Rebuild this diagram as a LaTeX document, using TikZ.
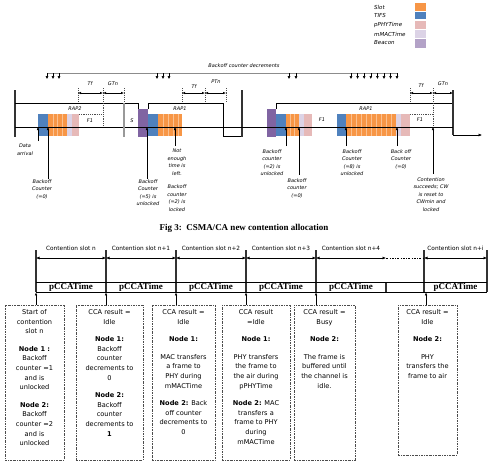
\documentclass[tikz,border=0pt]{standalone}
\usepackage{fontspec}
\setmainfont{Liberation Serif}
\newfontfamily\dvs{DejaVu Sans}[ItalicFont={DejaVu Sans Oblique},BoldFont={DejaVu Sans Bold}]
\usetikzlibrary{arrows.meta}
\definecolor{slotc}{HTML}{F79646}
\definecolor{slotl}{HTML}{FAC090}
\definecolor{tifsc}{HTML}{4F81BD}
\definecolor{phyc}{HTML}{E6B9B8}
\definecolor{macc}{HTML}{DCD3E6}
\definecolor{beac}{HTML}{8064A2}
\definecolor{beal}{HTML}{B3A2C7}
\tikzset{
  ftxt/.style={font=\dvs\itshape\fontsize{5}{7.5}\selectfont, align=center, inner sep=0pt, anchor=north},
  ltxt/.style={font=\dvs\itshape\fontsize{5.5}{7}\selectfont, inner sep=0pt, anchor=west},
  btxt/.style={font=\dvs\fontsize{6.6}{9.6}\selectfont, align=center, inner sep=0pt, anchor=north},
  ctxt/.style={font=\dvs\fontsize{5.8}{7}\selectfont, inner sep=0pt},
  ptxt/.style={font=\bfseries\fontsize{9}{10}\selectfont, inner sep=0pt},
  uar/.style={-{Latex[length=3pt,width=2.6pt]}, line width=0.5pt},
  dar/.style={-{Latex[length=2.8pt,width=2.8pt]}, line width=0.5pt},
  tarr/.style={{Latex[length=3pt,width=2.4pt]}-{Latex[length=3pt,width=2.4pt]}, line width=0.5pt},
  barr/.style={{Latex[length=3.5pt,width=3pt]}-{Latex[length=3.5pt,width=3pt]}, line width=0.6pt},
  dline/.style={dash pattern=on 1.2pt off 1pt, line width=0.4pt, black!70},
  dbox/.style={draw=black!70, line width=0.5pt, dash pattern=on 2pt off 1pt on 0.6pt off 1pt, inner sep=0pt},
  vbar/.style={line width=1.4pt, black!80},
  frame/.style={line width=0.5pt, black},
  sdiv/.style={slotl, line width=0.5pt},
}
\begin{document}
\begin{tikzpicture}[x=1pt,y=-1pt]
\useasboundingbox (0,0) rectangle (488,467);

% ---------- legend ----------
\node[ltxt] (lg1) at (374,7) {Slot};
\node[ltxt] (lg2) at (374,15.5) {TIFS};
\node[ltxt] (lg3) at (374,25) {pPHYTime};
\node[ltxt] (lg4) at (374,34) {mMACTime};
\node[ltxt] (lg5) at (374,43) {Beacon};
\fill[slotc] (415,3) rectangle (426,11);
\fill[tifsc] (415,12) rectangle (426,19);
\fill[phyc] (415,21) rectangle (426,29);
\fill[macc] (415,30) rectangle (426,38);
\fill[beal] (415,39) rectangle (426,48);

% ---------- backoff decrements ----------
\node[ftxt, anchor=center] (bcd) at (244,66) {Backoff counter decrements};
\draw[black!45, line width=0.6pt] (47,73) -- (397,73);
\foreach \x in {47,53,59,157,163,169,289,296,351,357.6,364.2,370.8,377.4,384,390.6,397}
  \draw[dar] (\x,73) -- (\x,79);

% ---------- slots ----------
% block 1
\fill[tifsc] (38,114) rectangle (48,136);
\fill[slotc] (48,114) rectangle (67,136);
\foreach \x in {52.75,57.5,62.25} \draw[sdiv] (\x,114) -- (\x,136);
\fill[macc] (67,114) rectangle (72,136);
\fill[phyc] (72,114) rectangle (79,136);
\draw[dline] (79,114) -- (103,114);
% block 2
\fill[beac] (138,109) rectangle (148,137);
\fill[tifsc] (148,114) rectangle (158,136);
\fill[slotc] (158,114) rectangle (182,136);
\foreach \x in {163,168,173,178} \draw[sdiv] (\x,114) -- (\x,136);
% block 3a
\fill[beac] (267,109) rectangle (276,137);
\fill[tifsc] (276,114) rectangle (286,136);
\fill[slotc] (286,114) rectangle (299,136);
\foreach \x in {290.3,294.6} \draw[sdiv] (\x,114) -- (\x,136);
\fill[macc] (299,114) rectangle (304,136);
\fill[phyc] (304,114) rectangle (312,136);
% block 3b
\fill[tifsc] (337,114) rectangle (346,136);
\fill[slotc] (346,114) rectangle (396,136);
\foreach \x in {351,356,361,366,371,376,381,386,391} \draw[sdiv] (\x,114) -- (\x,136);
\fill[macc] (396,114) rectangle (401,136);
\fill[phyc] (401,114) rectangle (410,136);
\draw[dline] (410,114) -- (433,114);

% ---------- frames ----------
\draw[vbar] (15,90) -- (15,137);
\draw[frame] (15,103) -- (138,103) -- (138,109);
\draw[frame] (148,109) -- (148,103) -- (223,103) -- (223,136) -- (242,136);
\draw[vbar] (242,90) -- (242,137);
\draw[frame] (276,109) -- (276,103) -- (453,103);
\draw[vbar] (453,90) -- (453,135);
\draw[frame, -{Latex[length=3.5pt,width=3pt]}] (453,135) -- (482,135);
\draw[frame] (15,127) -- (453,127);
\draw[line width=1.2pt, black!40] (124,103) -- (124,137);

\node[ftxt, anchor=center] (rap2) at (75,109) {RAP2};
\node[ftxt, anchor=center] (rap1a) at (180,109) {RAP1};
\node[ftxt, anchor=center] (rap1b) at (366,109) {RAP1};
\node[ftxt, anchor=center] (f1a) at (90,121) {F1};
\node[ftxt, anchor=center] (f1b) at (322,120) {F1};
\node[ftxt, anchor=center] (f1c) at (420,120) {F1};
\node[ftxt, anchor=center] (ssep) at (132,121) {S};

% ---------- timing markers ----------
\foreach \x in {78,103,124,182,205,226,410,433} \draw[dline] (\x,88) -- (\x,103);
\draw[dline] (103,103) -- (103,127);
\draw[dline] (433,103) -- (433,127);
\draw[tarr] (78,93) -- (103,93);
\draw[tarr] (103,93) -- (124,93);
\draw[tarr] (182,93) -- (205,93);
\draw[tarr] (205,93) -- (226,93);
\draw[tarr] (410,93) -- (433,93);
\draw[tarr] (433,93) -- (453,93);
\node[ftxt, anchor=center] (t1) at (90,84) {Tf};
\node[ftxt, anchor=center] (g1) at (113,84) {GTn};
\node[ftxt, anchor=center] (t2) at (194,87) {Tf};
\node[ftxt, anchor=center] (p2) at (216,82) {PTn};
\node[ftxt, anchor=center] (t3) at (421,86) {Tf};
\node[ftxt, anchor=center] (g3) at (443,84) {GTn};

% ---------- event labels ----------
\node[ftxt] (e1) at (25,144) {Data\\arrival};
\draw[uar] (38,141) -- (38,127);
\node[ftxt] (e2) at (42,179) {Backoff\\Counter\\(=0)};
\draw[uar] (48,179) -- (48,127);
\node[ftxt] (e3) at (148,179) {Backoff\\Counter\\(=5) is\\unlocked};
\draw[uar] (147,179) -- (147,127);
\node[ftxt] (e4) at (177,149) {Not\\enough\\time is\\left.\\[6pt]Backoff\\counter\\(=2) is\\locked};
\draw[uar] (175,146) -- (175,127);
\node[ftxt] (e5) at (272,149) {Backoff\\counter\\(=2) is\\unlocked};
\draw[uar] (286,146) -- (286,127);
\node[ftxt] (e6) at (297,178) {Backoff\\counter\\(=0)};
\draw[uar] (299,175) -- (299,127);
\node[ftxt] (e7) at (352,149) {Backoff\\Counter\\(=8) is\\unlocked};
\draw[uar] (346,146) -- (346,127);
\node[ftxt] (e8) at (401,149) {Back off\\Counter\\(=0)};
\draw[uar] (397,146) -- (397,127);
\node[ftxt] (e9) at (431,177) {Contention\\succeeds; CW\\is reset to\\CWmin and\\locked};
\draw[uar] (433,174) -- (433,127);

% ---------- caption ----------
\node[font=\bfseries\fontsize{9}{10}\selectfont, inner sep=0pt] (cap) at (244,228) {Fig 3:\ \ CSMA/CA new contention allocation};

% ---------- contention slots ----------
\node[ctxt] (cs0) at (71,248) {Contention slot n};
\node[ctxt] (cs1) at (141,248) {Contention slot n+1};
\node[ctxt] (cs2) at (211,248) {Contention slot n+2};
\node[ctxt] (cs3) at (281,248) {Contention slot n+3};
\node[ctxt] (cs4) at (351,248) {Contention slot n+4};
\node[ctxt] (cs5) at (455.5,248) {Contention slot n+i};

\foreach \x in {36,106,176,246,316,424,487} \draw[vbar] (\x,250) -- (\x,292);
\draw[vbar] (386,282) -- (386,292);
\draw[line width=0.8pt] (36,282) -- (487,282);
\draw[line width=0.8pt] (36,292) -- (487,292);
\draw[barr] (36,258) -- (106,258);
\draw[barr] (106,258) -- (176,258);
\draw[barr] (176,258) -- (246,258);
\draw[barr] (246,258) -- (316,258);
\draw[barr] (316,258) -- (386,258);
\draw[barr] (424,258) -- (487,258);
\draw[line width=0.5pt, dash pattern=on 2pt off 1.5pt on 0.5pt off 1.5pt] (386,258) -- (424,258);

\node[ptxt] (pc0) at (71,287.5) {pCCATime};
\node[ptxt] (pc1) at (141,287.5) {pCCATime};
\node[ptxt] (pc2) at (211,287.5) {pCCATime};
\node[ptxt] (pc3) at (281,287.5) {pCCATime};
\node[ptxt] (pc4) at (351,287.5) {pCCATime};
\node[ptxt] (pc5) at (455.5,287.5) {pCCATime};

% ---------- boxes ----------
\node[dbox, minimum width=59pt, minimum height=155pt] (b1) at (34.5,382.5) {};
\node[dbox, minimum width=67pt, minimum height=155pt] (b2) at (109.5,382.5) {};
\node[dbox, minimum width=63pt, minimum height=155pt] (b3) at (183.5,382.5) {};
\node[dbox, minimum width=68pt, minimum height=155pt] (b4) at (256,382.5) {};
\node[dbox, minimum width=61pt, minimum height=155pt] (b5) at (324.5,382.5) {};
\node[dbox, minimum width=59pt, minimum height=150pt] (b6) at (427.5,380) {};
\foreach \x in {36,106,176,246,316,426} \draw[uar] (\x,305) -- (\x,292.4);

\node[btxt] (tx1) at (34.5,309.2) {Start of\\contention\\slot n\\[8pt]\textbf{Node 1 :}\\Backoff\\counter =1\\and is\\unlocked\\[8pt]\textbf{Node 2:}\\Backoff\\counter =2\\and is\\unlocked};
\node[btxt] (tx2) at (109.5,309.2) {CCA result =\\Idle\\[8pt]\textbf{Node 1:}\\Backoff\\counter\\decrements to\\0\\[8pt]\textbf{Node 2:}\\Backoff\\counter\\decrements to\\\textbf{1}};
\node[btxt] (tx3) at (183.5,309.2) {CCA result =\\Idle\\[8pt]\textbf{Node 1:}\\[8pt]MAC transfers\\a frame to\\PHY during\\mMACTime\\[8pt]\textbf{Node 2:} Back\\off counter\\decrements to\\0};
\node[btxt] (tx4) at (256,309.2) {CCA result\\=Idle\\[8pt]\textbf{Node 1:}\\[8pt]PHY transfers\\the frame to\\the air during\\pPHYTime\\[8pt]\textbf{Node 2:} MAC\\transfers a\\frame to PHY\\during\\mMACTime};
\node[btxt] (tx5) at (324.5,309.2) {CCA result =\\Busy\\[8pt]\textbf{Node 2:}\\[8pt]The frame is\\buffered until\\the channel is\\idle.};
\node[btxt] (tx6) at (427.5,309.2) {CCA result =\\Idle\\[8pt]\textbf{Node 2:}\\[8pt]PHY\\transfers the\\frame to air};
\end{tikzpicture}
\end{document}
